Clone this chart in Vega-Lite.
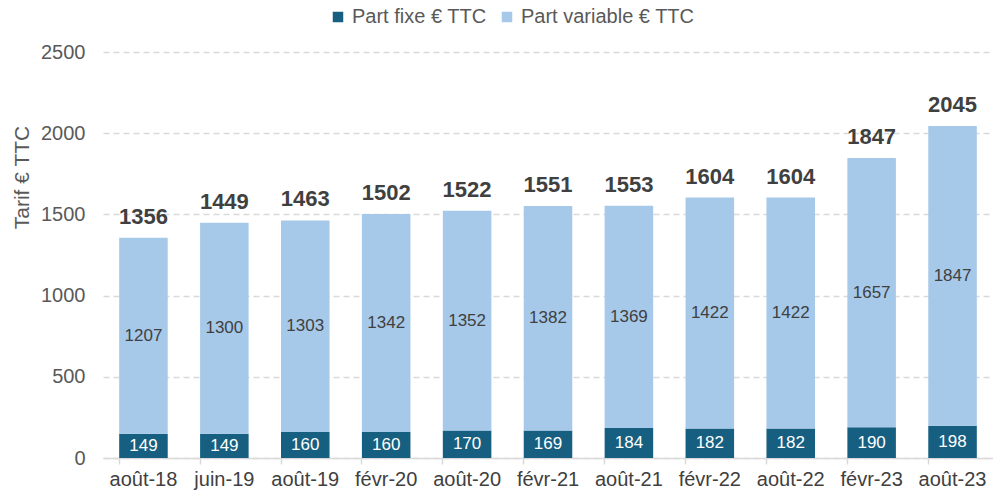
{
  "$schema": "https://vega.github.io/schema/vega-lite/v6.json",
  "autosize": {"type": "none"},
  "width": 890,
  "height": 406,
  "padding": {"left": 103, "top": 52, "right": 0, "bottom": 36},
  "background": "white",
  "config": {
    "font": "Liberation Sans",
    "view": {"stroke": null}
  },
  "data": {
    "values": [
      {"date": "août-18", "part": "Part fixe € TTC", "value": 149},
      {"date": "août-18", "part": "Part variable € TTC", "value": 1207},
      {"date": "juin-19", "part": "Part fixe € TTC", "value": 149},
      {"date": "juin-19", "part": "Part variable € TTC", "value": 1300},
      {"date": "août-19", "part": "Part fixe € TTC", "value": 160},
      {"date": "août-19", "part": "Part variable € TTC", "value": 1303},
      {"date": "févr-20", "part": "Part fixe € TTC", "value": 160},
      {"date": "févr-20", "part": "Part variable € TTC", "value": 1342},
      {"date": "août-20", "part": "Part fixe € TTC", "value": 170},
      {"date": "août-20", "part": "Part variable € TTC", "value": 1352},
      {"date": "févr-21", "part": "Part fixe € TTC", "value": 169},
      {"date": "févr-21", "part": "Part variable € TTC", "value": 1382},
      {"date": "août-21", "part": "Part fixe € TTC", "value": 184},
      {"date": "août-21", "part": "Part variable € TTC", "value": 1369},
      {"date": "févr-22", "part": "Part fixe € TTC", "value": 182},
      {"date": "févr-22", "part": "Part variable € TTC", "value": 1422},
      {"date": "août-22", "part": "Part fixe € TTC", "value": 182},
      {"date": "août-22", "part": "Part variable € TTC", "value": 1422},
      {"date": "févr-23", "part": "Part fixe € TTC", "value": 190},
      {"date": "févr-23", "part": "Part variable € TTC", "value": 1657},
      {"date": "août-23", "part": "Part fixe € TTC", "value": 198},
      {"date": "août-23", "part": "Part variable € TTC", "value": 1847}
    ]
  },
  "transform": [
    {"stack": "value", "groupby": ["date"], "sort": [{"field": "part", "order": "ascending"}], "as": ["v0", "v1"]},
    {"calculate": "(datum.v0 + datum.v1) / 2", "as": "mid"}
  ],
  "encoding": {
    "x": {
      "field": "date",
      "type": "nominal",
      "sort": null,
      "scale": {"paddingInner": 0.4, "paddingOuter": 0.2},
      "axis": {
        "title": null,
        "labelAngle": 0,
        "labelFontSize": 20,
        "labelColor": "#404040",
        "labelPadding": 5,
        "domainColor": "#d9d9d9",
        "domainWidth": 1.5,
        "tickColor": "#d9d9d9",
        "tickSize": 6,
        "tickWidth": 1.5,
        "bandPosition": 0
      }
    }
  },
  "layer": [
    {
      "mark": {"type": "bar"},
      "encoding": {
        "y": {
          "field": "v0",
          "type": "quantitative",
          "scale": {"domain": [0, 2500], "nice": false, "zero": true},
          "axis": {
            "title": "Tarif € TTC",
            "titleFontSize": 21,
            "titleFontWeight": "normal",
            "titleColor": "#595959",
            "titlePadding": 8,
            "titleY": 125,
            "values": [0, 500, 1000, 1500, 2000, 2500],
            "format": "d",
            "labelFontSize": 20,
            "labelColor": "#595959",
            "labelPadding": 18,
            "domain": false,
            "ticks": false,
            "gridColor": "#d9d9d9",
            "gridDash": [6, 4],
            "gridWidth": 1.3
          }
        },
        "y2": {"field": "v1"},
        "color": {
          "field": "part",
          "type": "nominal",
          "scale": {"domain": ["Part fixe € TTC", "Part variable € TTC"], "range": ["#175f81", "#a6c9ea"]},
          "legend": {
            "title": null,
            "orient": "none",
            "direction": "horizontal",
            "legendX": 225,
            "legendY": -45,
            "symbolType": "square",
            "symbolSize": 110,
            "symbolStrokeWidth": 0,
            "labelFontSize": 20,
            "labelColor": "#595959",
            "labelLimit": 400,
            "columnPadding": 10,
            "labelOffset": 4
          }
        }
      }
    },
    {
      "mark": {"type": "text", "fontSize": 17},
      "encoding": {
        "y": {"field": "mid", "type": "quantitative"},
        "text": {"field": "value", "type": "quantitative"},
        "color": {
          "condition": {"test": "datum.part === 'Part fixe € TTC'", "value": "white"},
          "value": "#404040"
        }
      }
    },
    {
      "mark": {"type": "text", "fontSize": 22, "fontWeight": "bold", "color": "#404040", "dy": -21},
      "encoding": {
        "y": {"aggregate": "sum", "field": "value", "type": "quantitative"},
        "text": {"aggregate": "sum", "field": "value", "type": "quantitative"}
      }
    }
  ]
}
